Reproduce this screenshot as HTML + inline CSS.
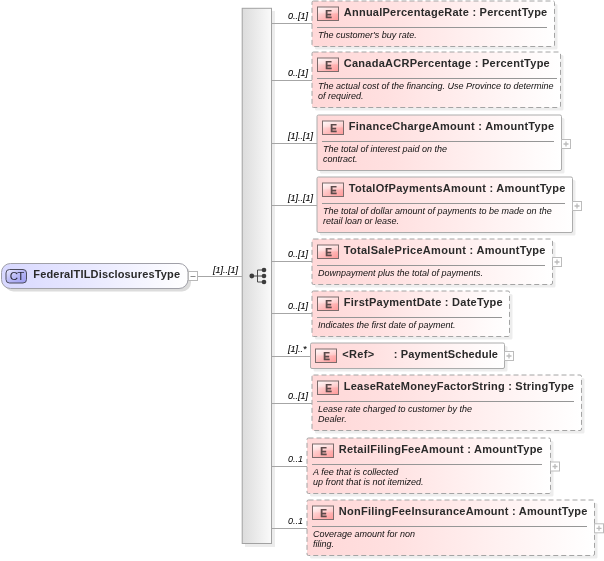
<!DOCTYPE html><html><head><meta charset="utf-8"><title>FederalTILDisclosuresType</title><style>
html,body{margin:0;padding:0;background:#fff;}
body{width:604px;height:561px;position:relative;overflow:hidden;font-family:"Liberation Sans",sans-serif;}
.abs{position:absolute;}
#t{position:absolute;left:0;top:0;width:604px;height:561px;will-change:transform;}
.hl{position:absolute;height:1px;background:#a6a6a6;}
.lbl{position:absolute;font-style:italic;font-size:9px;line-height:10px;color:#000;white-space:pre;}
.lb{-webkit-text-stroke:0.12px #000;}
.ei{position:absolute;font-weight:bold;font-size:10px;line-height:13px;width:22px;text-align:center;color:#5c4a4a;-webkit-text-stroke:0.25px #5c4a4a;}
.tt{position:absolute;font-weight:bold;font-size:11px;line-height:13px;color:#2a2a2a;white-space:pre;}
.sep{position:absolute;height:1px;background:#969696;}
.ds{position:absolute;font-style:italic;font-size:9px;line-height:10px;color:#111;white-space:pre;}
svg{position:absolute;left:0;top:0;}
</style></head><body>
<svg width="604" height="561" viewBox="0 0 604 561">
<defs>
<linearGradient id="gb" x1="0" y1="0" x2="1" y2="0"><stop offset="0" stop-color="#ffd8d8"/><stop offset="0.3" stop-color="#ffe0e0"/><stop offset="0.65" stop-color="#fff0f0"/><stop offset="0.9" stop-color="#fffbfb"/><stop offset="1" stop-color="#ffffff"/></linearGradient>
<linearGradient id="ge" x1="0" y1="0" x2="1" y2="1"><stop offset="0" stop-color="#fff0f0"/><stop offset="0.5" stop-color="#ffc0c0"/><stop offset="1" stop-color="#ff9898"/></linearGradient>
<linearGradient id="gg" x1="0" y1="0" x2="0" y2="1"><stop offset="0" stop-color="#fff" stop-opacity="0.55"/><stop offset="0.45" stop-color="#fff" stop-opacity="0.25"/><stop offset="0.5" stop-color="#fff" stop-opacity="0"/><stop offset="1" stop-color="#fff" stop-opacity="0"/></linearGradient>
<linearGradient id="gbar" x1="0" y1="0" x2="1" y2="0"><stop offset="0" stop-color="#dcdcdc"/><stop offset="1" stop-color="#fafafa"/></linearGradient>
<linearGradient id="gct" x1="0" y1="0" x2="1" y2="0"><stop offset="0" stop-color="#d8d8ff"/><stop offset="0.4" stop-color="#e6e6ff"/><stop offset="1" stop-color="#ffffff"/></linearGradient>
<linearGradient id="gci" x1="0" y1="0" x2="1" y2="1"><stop offset="0" stop-color="#ececff"/><stop offset="0.5" stop-color="#b8b8f6"/><stop offset="1" stop-color="#9a9af0"/></linearGradient>
</defs>
<rect x="245" y="11" width="30" height="536" fill="#ececec"/>
<rect x="242.2" y="8.3" width="29.3" height="535.2" fill="url(#gbar)" stroke="#a2a2a2" stroke-width="1"/>
<rect x="4.5" y="266.5" width="186.5" height="25" rx="9" fill="#dcdcdc"/>
<rect x="1.5" y="263.5" width="186.5" height="25" rx="9" fill="url(#gct)" stroke="#a0a0a8" stroke-width="1"/>
<rect x="6" y="269.5" width="20.5" height="13.5" rx="3.5" fill="url(#gci)" stroke="#4c4c5c" stroke-width="1"/>
<rect x="188.5" y="271.5" width="9" height="9" fill="#fff" stroke="#b8b8b8" stroke-width="1"/>
<path d="M190.5 276.5H195.5" stroke="#8c8c8c" stroke-width="1"/>
<path d="M198 276.5H242" stroke="#a6a6a6" stroke-width="1"/>
<g stroke="#484848" stroke-width="1" fill="none"><path d="M252 276H264M257.5 270V282M257.5 270H264M257.5 282H264"/></g>
<g fill="#3c3c3c"><circle cx="251.8" cy="276" r="2.4"/><circle cx="264" cy="270" r="2.3"/><circle cx="264" cy="276" r="2.3"/><circle cx="264" cy="282" r="2.3"/></g>
<path d="M272 23.5H312" stroke="#a6a6a6" stroke-width="1"/>
<rect x="315" y="4" width="242.5" height="45.5" rx="1.5" fill="#ededed"/>
<rect x="312" y="1" width="242.5" height="45.5" rx="1.5" fill="url(#gb)" stroke="#a4a4a4" stroke-width="1" stroke-dasharray="5 3"/>
<rect x="317.5" y="7" width="21" height="13.5" fill="url(#ge)"/>
<rect x="317.5" y="7" width="21" height="13.5" fill="url(#gg)" stroke="#7c6c6c" stroke-width="1"/>
<path d="M272 80.5H312" stroke="#a6a6a6" stroke-width="1"/>
<rect x="315" y="55" width="248.5" height="55.5" rx="1.5" fill="#ededed"/>
<rect x="312" y="52" width="248.5" height="55.5" rx="1.5" fill="url(#gb)" stroke="#a4a4a4" stroke-width="1" stroke-dasharray="5 3"/>
<rect x="317.5" y="58" width="21" height="13.5" fill="url(#ge)"/>
<rect x="317.5" y="58" width="21" height="13.5" fill="url(#gg)" stroke="#7c6c6c" stroke-width="1"/>
<path d="M272 143.5H317" stroke="#a6a6a6" stroke-width="1"/>
<rect x="320" y="118" width="244.5" height="55.5" rx="1.5" fill="#ededed"/>
<rect x="317" y="115" width="244.5" height="55.5" rx="1.5" fill="url(#gb)" stroke="#acacac" stroke-width="1"/>
<rect x="322.5" y="121" width="21" height="13.5" fill="url(#ge)"/>
<rect x="322.5" y="121" width="21" height="13.5" fill="url(#gg)" stroke="#7c6c6c" stroke-width="1"/>
<rect x="561.5" y="139.5" width="9" height="9" fill="#fff" stroke="#bcbcbc" stroke-width="1"/>
<path d="M563.5 144.0H568.5M566.0 141.5V146.5" stroke="#bcbcbc" stroke-width="1.3"/>
<path d="M272 205.5H317" stroke="#a6a6a6" stroke-width="1"/>
<rect x="320" y="180" width="255.5" height="55.5" rx="1.5" fill="#ededed"/>
<rect x="317" y="177" width="255.5" height="55.5" rx="1.5" fill="url(#gb)" stroke="#acacac" stroke-width="1"/>
<rect x="322.5" y="183" width="21" height="13.5" fill="url(#ge)"/>
<rect x="322.5" y="183" width="21" height="13.5" fill="url(#gg)" stroke="#7c6c6c" stroke-width="1"/>
<rect x="572.5" y="201.5" width="9" height="9" fill="#fff" stroke="#bcbcbc" stroke-width="1"/>
<path d="M574.5 206.0H579.5M577.0 203.5V208.5" stroke="#bcbcbc" stroke-width="1.3"/>
<path d="M272 261.5H312" stroke="#a6a6a6" stroke-width="1"/>
<rect x="315" y="242" width="240.5" height="45.5" rx="1.5" fill="#ededed"/>
<rect x="312" y="239" width="240.5" height="45.5" rx="1.5" fill="url(#gb)" stroke="#a4a4a4" stroke-width="1" stroke-dasharray="5 3"/>
<rect x="317.5" y="245" width="21" height="13.5" fill="url(#ge)"/>
<rect x="317.5" y="245" width="21" height="13.5" fill="url(#gg)" stroke="#7c6c6c" stroke-width="1"/>
<rect x="552.5" y="257.5" width="9" height="9" fill="#fff" stroke="#bcbcbc" stroke-width="1"/>
<path d="M554.5 262.0H559.5M557.0 259.5V264.5" stroke="#bcbcbc" stroke-width="1.3"/>
<path d="M272 313.5H312" stroke="#a6a6a6" stroke-width="1"/>
<rect x="315" y="294" width="197.5" height="45.5" rx="1.5" fill="#ededed"/>
<rect x="312" y="291" width="197.5" height="45.5" rx="1.5" fill="url(#gb)" stroke="#a4a4a4" stroke-width="1" stroke-dasharray="5 3"/>
<rect x="317.5" y="297" width="21" height="13.5" fill="url(#ge)"/>
<rect x="317.5" y="297" width="21" height="13.5" fill="url(#gg)" stroke="#7c6c6c" stroke-width="1"/>
<path d="M272 356.5H310.5" stroke="#a6a6a6" stroke-width="1"/>
<rect x="313.5" y="346" width="194.0" height="25.5" rx="1.5" fill="#ededed"/>
<rect x="310.5" y="343" width="194.0" height="25.5" rx="1.5" fill="url(#gb)" stroke="#acacac" stroke-width="1"/>
<rect x="315.5" y="349" width="21" height="13.5" fill="url(#ge)"/>
<rect x="315.5" y="349" width="21" height="13.5" fill="url(#gg)" stroke="#7c6c6c" stroke-width="1"/>
<rect x="504.5" y="351.5" width="9" height="9" fill="#fff" stroke="#bcbcbc" stroke-width="1"/>
<path d="M506.5 356.0H511.5M509.0 353.5V358.5" stroke="#bcbcbc" stroke-width="1.3"/>
<path d="M272 403.5H312" stroke="#a6a6a6" stroke-width="1"/>
<rect x="315" y="378" width="269.5" height="55.5" rx="1.5" fill="#ededed"/>
<rect x="312" y="375" width="269.5" height="55.5" rx="1.5" fill="url(#gb)" stroke="#a4a4a4" stroke-width="1" stroke-dasharray="5 3"/>
<rect x="317.5" y="381" width="21" height="13.5" fill="url(#ge)"/>
<rect x="317.5" y="381" width="21" height="13.5" fill="url(#gg)" stroke="#7c6c6c" stroke-width="1"/>
<path d="M272 466.5H307" stroke="#a6a6a6" stroke-width="1"/>
<rect x="310" y="441" width="243.5" height="55.5" rx="1.5" fill="#ededed"/>
<rect x="307" y="438" width="243.5" height="55.5" rx="1.5" fill="url(#gb)" stroke="#a4a4a4" stroke-width="1" stroke-dasharray="5 3"/>
<rect x="312.5" y="444" width="21" height="13.5" fill="url(#ge)"/>
<rect x="312.5" y="444" width="21" height="13.5" fill="url(#gg)" stroke="#7c6c6c" stroke-width="1"/>
<rect x="550.5" y="462" width="9" height="9" fill="#fff" stroke="#bcbcbc" stroke-width="1"/>
<path d="M552.5 466.5H557.5M555.0 464V469" stroke="#bcbcbc" stroke-width="1.3"/>
<path d="M272 528.5H307" stroke="#a6a6a6" stroke-width="1"/>
<rect x="310" y="503" width="287.5" height="55.5" rx="1.5" fill="#ededed"/>
<rect x="307" y="500" width="287.5" height="55.5" rx="1.5" fill="url(#gb)" stroke="#a4a4a4" stroke-width="1" stroke-dasharray="5 3"/>
<rect x="312.5" y="506" width="21" height="13.5" fill="url(#ge)"/>
<rect x="312.5" y="506" width="21" height="13.5" fill="url(#gg)" stroke="#7c6c6c" stroke-width="1"/>
<rect x="594.5" y="523.8" width="9" height="9" fill="#fff" stroke="#bcbcbc" stroke-width="1"/>
<path d="M596.5 528.3H601.5M599.0 525.8V530.8" stroke="#bcbcbc" stroke-width="1.3"/>
</svg>
<div id="t">
<div class="abs" style="left:6px;top:270px;width:21px;text-align:center;font-size:11.5px;line-height:13px;color:#2a2a3a;letter-spacing:-0.8px;">CT</div>
<div class="tt" style="left:33.3px;top:267.7px;letter-spacing:0.166px;">FederalTILDisclosuresType</div>
<div class="lbl lb" style="left:213px;top:265px;">[1]..[1]</div>
<div class="lbl lb" style="left:288px;top:11px;">0..[1]</div>
<div class="ei" style="left:317.6px;top:7.9px;">E</div>
<div class="tt" style="left:343.8px;top:6px;letter-spacing:0.243px;">AnnualPercentageRate : PercentType</div>
<div class="sep" style="left:317px;top:27px;width:230px;"></div>
<div class="ds" style="left:318px;top:30px;">The customer's buy rate.</div>
<div class="lbl lb" style="left:288px;top:68px;">0..[1]</div>
<div class="ei" style="left:317.6px;top:58.9px;">E</div>
<div class="tt" style="left:343.8px;top:57px;letter-spacing:0.252px;">CanadaACRPercentage : PercentType</div>
<div class="sep" style="left:317px;top:78px;width:240px;"></div>
<div class="ds" style="left:318px;top:81px;">The actual cost of the financing. Use Province to determine</div>
<div class="ds" style="left:318px;top:91px;">of required.</div>
<div class="lbl lb" style="left:288px;top:131px;">[1]..[1]</div>
<div class="ei" style="left:322.6px;top:121.9px;">E</div>
<div class="tt" style="left:348.8px;top:120px;letter-spacing:0.272px;">FinanceChargeAmount : AmountType</div>
<div class="sep" style="left:322px;top:141px;width:232px;"></div>
<div class="ds" style="left:323px;top:144px;">The total of interest paid on the</div>
<div class="ds" style="left:323px;top:154px;">contract.</div>
<div class="lbl lb" style="left:288px;top:193px;">[1]..[1]</div>
<div class="ei" style="left:322.6px;top:183.9px;">E</div>
<div class="tt" style="left:348.8px;top:182px;letter-spacing:0.292px;">TotalOfPaymentsAmount : AmountType</div>
<div class="sep" style="left:322px;top:203px;width:243px;"></div>
<div class="ds" style="left:323px;top:206px;">The total of dollar amount of payments to be made on the</div>
<div class="ds" style="left:323px;top:216px;">retail loan or lease.</div>
<div class="lbl lb" style="left:288px;top:249px;">0..[1]</div>
<div class="ei" style="left:317.6px;top:245.9px;">E</div>
<div class="tt" style="left:343.8px;top:244px;letter-spacing:0.291px;">TotalSalePriceAmount : AmountType</div>
<div class="sep" style="left:317px;top:265px;width:228px;"></div>
<div class="ds" style="left:318px;top:268px;">Downpayment plus the total of payments.</div>
<div class="lbl lb" style="left:288px;top:301px;">0..[1]</div>
<div class="ei" style="left:317.6px;top:297.9px;">E</div>
<div class="tt" style="left:343.8px;top:296px;letter-spacing:0.262px;">FirstPaymentDate : DateType</div>
<div class="sep" style="left:317px;top:317px;width:185px;"></div>
<div class="ds" style="left:318px;top:320px;">Indicates the first date of payment.</div>
<div class="lbl lb" style="left:288px;top:344px;">[1]..*</div>
<div class="ei" style="left:315.6px;top:349.9px;">E</div>
<div class="tt" style="left:342.3px;top:348px;letter-spacing:0.3px;">&lt;Ref&gt;</div>
<div class="tt" style="left:393.68px;top:348px;letter-spacing:0.177px;">: PaymentSchedule</div>
<div class="lbl lb" style="left:288px;top:391px;">0..[1]</div>
<div class="ei" style="left:317.6px;top:381.9px;">E</div>
<div class="tt" style="left:343.8px;top:380px;letter-spacing:0.224px;">LeaseRateMoneyFactorString : StringType</div>
<div class="sep" style="left:317px;top:401px;width:257px;"></div>
<div class="ds" style="left:318px;top:404px;">Lease rate charged to customer by the</div>
<div class="ds" style="left:318px;top:414px;">Dealer.</div>
<div class="lbl" style="left:288px;top:454px;">0..1</div>
<div class="ei" style="left:312.6px;top:444.9px;">E</div>
<div class="tt" style="left:338.8px;top:443px;letter-spacing:0.254px;">RetailFilingFeeAmount : AmountType</div>
<div class="sep" style="left:312px;top:464px;width:230px;"></div>
<div class="ds" style="left:313px;top:467px;">A fee that is collected</div>
<div class="ds" style="left:313px;top:477px;">up front that is not itemized.</div>
<div class="lbl" style="left:288px;top:516px;">0..1</div>
<div class="ei" style="left:312.6px;top:506.9px;">E</div>
<div class="tt" style="left:338.8px;top:505px;letter-spacing:0.249px;">NonFilingFeeInsuranceAmount : AmountType</div>
<div class="sep" style="left:312px;top:526px;width:275px;"></div>
<div class="ds" style="left:313px;top:529px;">Coverage amount for non</div>
<div class="ds" style="left:313px;top:539px;">filing.</div>
</div>
</body></html>
